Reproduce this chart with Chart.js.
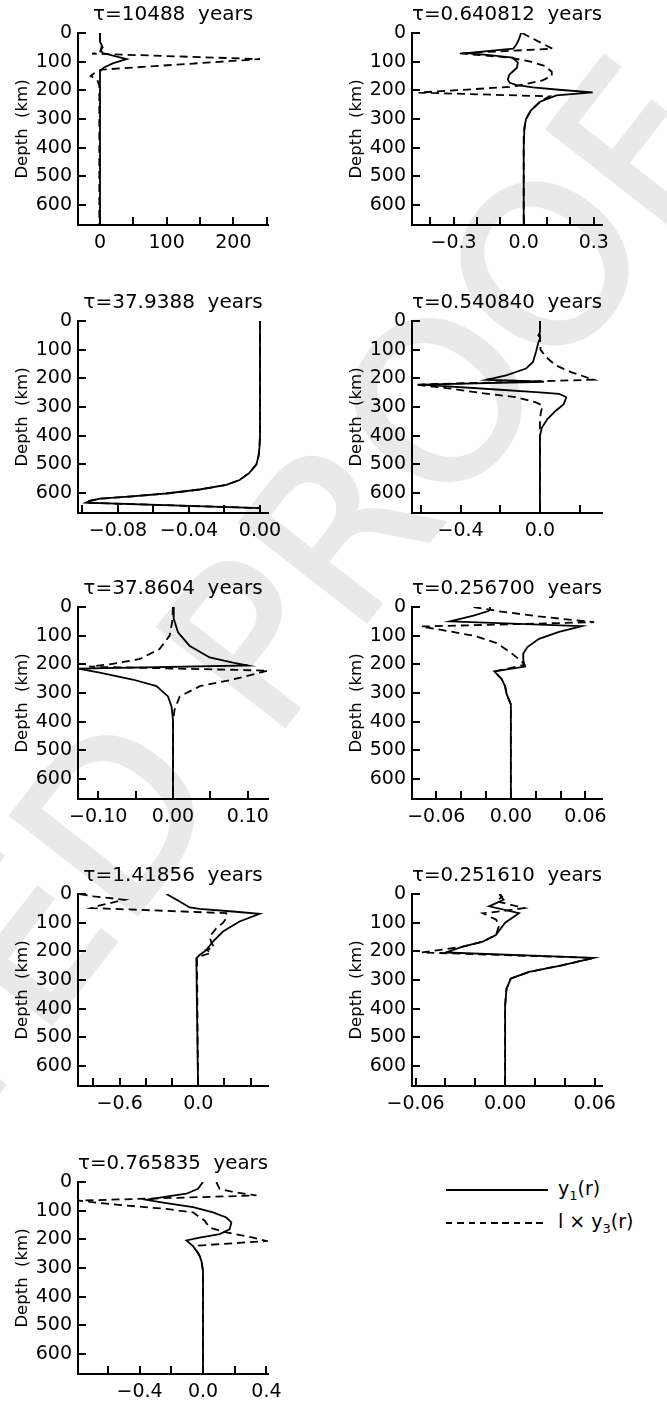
<!DOCTYPE html>
<html>
<head>
<meta charset="utf-8">
<script src="https://cdn.jsdelivr.net/npm/chart.js@4.4.0/dist/chart.umd.min.js"></script>
<style>
    html, body { margin: 0; padding: 0; background: #fff; }
    #page { position: relative; width: 667px; height: 1401px; overflow: hidden; }
    #watermark {
        position: absolute; left: -760px; top: 1761px;
        font-family: "DejaVu Sans"; font-size: 220px; line-height: 220px;
        color: #e9e9e9; -webkit-text-stroke: 4px #e9e9e9;
        white-space: pre; transform-origin: 0 0; transform: rotate(-52deg);
    }
    .panel { position: absolute; }
    .legendLine { position: absolute; height: 2px; }
    .legendText { position: absolute; font-family: "DejaVu Sans"; font-size: 19px; color: #000; white-space: pre; }
    .legendText sub { font-size: 13px; vertical-align: -5px; }
</style>
</head>
<body>
<div id="page">
    <div id="watermark">CORRECTED PROOF</div>
    <div class="legendLine" style="left:446px; top:1189px; width:102px; background:#000; height:1.8px;"></div>
    <div class="legendText" style="left:558px; top:1177px;">y<sub>1</sub>(r)</div>
    <div class="legendLine" style="left:446px; top:1222px; width:102px; height:1.8px; background:repeating-linear-gradient(to right, #000 0 6.5px, transparent 6.5px 11.3px);"></div>
    <div class="legendText" style="left:558px; top:1210px;">l × y<sub>3</sub>(r)</div>
</div>
<script>
var titles = ['τ=10488  years', 'τ=0.640812  years', 'τ=37.9388  years', 'τ=0.540840  years',
    'τ=37.8604  years', 'τ=0.256700  years', 'τ=1.41856  years', 'τ=0.251610  years', 'τ=0.765835  years'];

// x axis ranges and tick steps, one entry per panel
var xMins = [-33, -0.478, -0.1025, -0.645, -0.127, -0.0795, -0.918, -0.0624, -0.789];
var xMaxs = [252, 0.335, 0.0045, 0.313, 0.127, 0.0733, 0.532, 0.0649, 0.41];
var xMinorSteps = [50, 0.1, 0.02, 0.2, 0.05, 0.02, 0.2, 0.02, 0.2];
var xMajorSteps = [100, 0.3, 0.04, 0.4, 0.1, 0.06, 0.6, 0.06, 0.4];
var xDecimals = [0, 1, 2, 1, 2, 2, 1, 2, 1];
var depthTicks = [0, 100, 200, 300, 400, 500, 600];
var depthMax = 670;

// panel 1
var p1Y1Depth = [0, 30, 45, 60, 70, 91, 105, 120, 134, 160, 670];
var p1Y1 = [0, 0, 3, 1, 4, 40, 20, 6, 0, 0, 0];
var p1Y3Depth = [0, 40, 50, 60, 68, 72, 91, 128, 135, 150, 164, 185, 670];
var p1Y3 = [0, 0, 4, 1, 0, -12, 240, 2, -6, -14, -4, -1, -1];

// panel 2
var p2Y1Depth = [0, 23, 41, 55, 70, 77, 86, 103, 121, 145, 162, 174, 182, 190, 198, 207, 218, 240, 270, 300, 330, 400, 670];
var p2Y1 = [-0.011, -0.021, -0.032, -0.045, -0.245, -0.146, -0.047, -0.025, -0.029, -0.061, -0.068, -0.06, -0.03, 0.04, 0.15, 0.295, 0.14, 0.07, 0.031, 0.01, 0.003, 0, 0];
var p2Y3Depth = [0, 55, 71, 86, 100, 115, 135, 150, 165, 180, 188, 208, 221, 240, 270, 300, 350, 670];
var p2Y3 = [-0.007, 0.123, -0.28, -0.06, 0.03, 0.09, 0.12, 0.12, 0.08, 0.0, -0.06, -0.45, 0.11, 0.07, 0.031, 0.01, 0, 0];

// panel 3
var p3Y1Depth = [0, 400, 440, 470, 500, 530, 555, 572, 588, 602, 612, 620, 628, 634, 653, 670];
var p3Y1 = [0, 0, -0.0003, -0.0008, -0.002, -0.006, -0.0115, -0.019, -0.034, -0.053, -0.072, -0.09, -0.096, -0.098, 0, 0];
var p3Y3Depth = [0, 400, 440, 470, 500, 530, 555, 572, 588, 602, 612, 620, 628, 634, 653, 670];
var p3Y3 = [0, 0, -0.0003, -0.0008, -0.002, -0.006, -0.0115, -0.019, -0.034, -0.053, -0.072, -0.09, -0.096, -0.098, 0, 0];

// panel 4
var p4Y1Depth = [0, 40, 50, 58, 75, 108, 143, 166, 190, 205, 212, 222, 239, 248, 254, 266, 290, 313, 342, 372, 401, 670];
var p4Y1 = [0, 0, -0.008, 0.002, -0.008, -0.02, -0.035, -0.07, -0.17, -0.27, 0.02, -0.6, -0.22, -0.02, 0.097, 0.133, 0.12, 0.08, 0.038, 0.01, 0, 0];
var p4Y3Depth = [0, 60, 100, 125, 155, 180, 205, 222, 234, 251, 266, 284, 295, 319, 342, 670];
var p4Y3 = [0, 0, 0.003, 0.03, 0.08, 0.163, 0.272, -0.63, -0.47, -0.3, -0.12, -0.02, 0.013, 0.005, 0, 0];

// panel 5
var p5Y1Depth = [0, 41, 88, 135, 176, 194, 204, 215, 229, 253, 276, 312, 347, 394, 670];
var p5Y1 = [0, 0.001, 0.0067, 0.022, 0.049, 0.08, 0.1, -0.126, -0.098, -0.054, -0.022, -0.0067, -0.002, 0, 0];
var p5Y3Depth = [0, 50, 100, 147, 182, 200, 208, 222, 253, 276, 312, 359, 400, 670];
var p5Y3 = [0, -0.001, -0.0045, -0.018, -0.045, -0.085, -0.112, 0.127, 0.08, 0.036, 0.009, 0.002, 0, 0];

// panel 6
var p6Y1Depth = [0, 8, 14, 30, 50, 67, 87, 111, 140, 163, 187, 208, 225, 235, 252, 276, 305, 340, 670];
var p6Y1 = [-0.017, -0.0165, -0.018, -0.03, -0.049, 0.057, 0.0387, 0.0227, 0.0133, 0.0099, 0.01, 0.0115, -0.0133, -0.011, -0.0073, -0.0047, -0.0033, 0, 0];
var p6Y3Depth = [0, 15, 33, 53, 68, 85, 102, 125, 155, 190, 202, 225, 235, 252, 276, 305, 340, 670];
var p6Y3 = [-0.030, -0.0094, 0.0227, 0.067, -0.072, -0.049, -0.028, -0.012, -0.0013, 0.0087, 0.0107, -0.0133, -0.011, -0.0073, -0.0047, -0.0033, 0, 0];

// panel 7
var p7Y1Depth = [0, 26, 47, 52, 61, 69, 96, 131, 166, 196, 213, 225, 670];
var p7Y1 = [-0.244, -0.142, -0.066, 0.01, 0.264, 0.468, 0.315, 0.188, 0.112, 0.061, 0.01, -0.015, -0.002];
var p7Y3Depth = [0, 8, 20, 40, 49, 67, 84, 100, 120, 149, 170, 185, 195, 205, 215, 225, 670];
var p7Y3 = [-0.905, -0.80, -0.562, -0.75, -0.816, 0.214, 0.214, 0.19, 0.137, 0.086, 0.1, 0.12, 0.06, 0.1, 0.03, -0.01, -0.002];

// panel 8
var p8Y1Depth = [0, 8, 20, 43, 67, 100, 143, 166, 184, 204, 223, 249, 272, 295, 331, 389, 670];
var p8Y1 = [-0.003, -0.003, -0.001, -0.0107, 0.0093, 0.0, -0.0062, -0.015, -0.0284, -0.0396, 0.0593, 0.038, 0.016, 0.0038, 0.0009, 0, 0];
var p8Y3Depth = [0, 10, 25, 49, 60, 67, 90, 110, 143, 166, 184, 204, 223, 249, 272, 295, 331, 389, 670];
var p8Y3 = [-0.004, -0.002, -0.006, 0.0127, -0.002, -0.015, -0.006, -0.004, -0.0062, -0.015, -0.0284, -0.056, 0.0593, 0.038, 0.016, 0.0038, 0.0009, 0, 0];

// panel 9
var p9Y1Depth = [0, 24, 41, 51, 62, 74, 88, 106, 124, 141, 165, 182, 194, 204, 224, 253, 276, 312, 670];
var p9Y1 = [0, -0.032, -0.105, -0.232, -0.358, -0.232, -0.063, 0.063, 0.147, 0.179, 0.168, 0.105, -0.021, -0.105, -0.063, -0.025, -0.01, 0, 0];
var p9Y3Depth = [0, 24, 35, 47, 65, 79, 94, 106, 135, 159, 176, 194, 206, 222, 240, 260, 280, 312, 670];
var p9Y3 = [0.084, 0.105, 0.19, 0.337, -0.79, -0.547, -0.232, -0.063, 0.01, 0.042, 0.147, 0.316, 0.4, -0.03, -0.04, -0.02, -0.008, 0, 0];

var panelY1Depths = [p1Y1Depth, p2Y1Depth, p3Y1Depth, p4Y1Depth, p5Y1Depth, p6Y1Depth, p7Y1Depth, p8Y1Depth, p9Y1Depth];
var panelY1 = [p1Y1, p2Y1, p3Y1, p4Y1, p5Y1, p6Y1, p7Y1, p8Y1, p9Y1];
var panelY3Depths = [p1Y3Depth, p2Y3Depth, p3Y3Depth, p4Y3Depth, p5Y3Depth, p6Y3Depth, p7Y3Depth, p8Y3Depth, p9Y3Depth];
var panelY3 = [p1Y3, p2Y3, p3Y3, p4Y3, p5Y3, p6Y3, p7Y3, p8Y3, p9Y3];

var panelLefts = [0, 334, 0, 334, 0, 334, 0, 334, 0];
var panelTops = [0, 0, 288, 288, 574, 574, 861, 861, 1149];

var FONT = 'DejaVu Sans';
var AREA_TOP = 33, AREA_HEIGHT = 192, AXIS_WIDTH = 78, AREA_WIDTH = 190;

function toPoints(depths, values) {
    var points = [];
    for (var i = 0; i < depths.length; i++) {
        points.push({x: values[i], y: depths[i]});
    }
    return points;
}

function formatTick(value, decimals) {
    var text = Math.abs(value).toFixed(decimals);
    return (value < -1e-9 ? '\u2212' : '') + text;
}

function createPanel(index) {
    var width = 333;
    var height = Math.min(287, 1401 - panelTops[index]);
    var canvas = document.createElement('canvas');
    canvas.className = 'panel';
    canvas.width = width;
    canvas.height = height;
    canvas.style.left = panelLefts[index] + 'px';
    canvas.style.top = panelTops[index] + 'px';
    canvas.style.width = width + 'px';
    canvas.style.height = height + 'px';
    document.getElementById('page').appendChild(canvas);

    var major = xMajorSteps[index];
    var decimals = xDecimals[index];

    return new Chart(canvas, {
        type: 'scatter',
        data: {
            datasets: [{
                label: 'y1(r)',
                data: toPoints(panelY1Depths[index], panelY1[index]),
                showLine: true,
                borderColor: '#000',
                borderWidth: 1.8,
                pointRadius: 0,
                tension: 0,
                fill: false
            }, {
                label: 'l x y3(r)',
                data: toPoints(panelY3Depths[index], panelY3[index]),
                showLine: true,
                borderColor: '#000',
                borderWidth: 1.8,
                borderDash: [8, 5],
                pointRadius: 0,
                tension: 0,
                fill: false
            }]
        },
        options: {
            responsive: false,
            animation: false,
            devicePixelRatio: 1,
            layout: {padding: {left: 0, right: width - AXIS_WIDTH - AREA_WIDTH, top: 0, bottom: 0}},
            plugins: {
                legend: {display: false},
                tooltip: {enabled: false},
                title: {
                    display: true,
                    text: titles[index],
                    fullSize: false,
                    color: '#000',
                    font: {family: FONT, size: 20, weight: 'normal', lineHeight: 1.2},
                    padding: {top: 3, bottom: AREA_TOP - 3 - 24}
                }
            },
            scales: {
                x: {
                    type: 'linear',
                    position: 'bottom',
                    min: xMins[index],
                    max: xMaxs[index],
                    afterFit: function(scale) { scale.height = height - AREA_TOP - AREA_HEIGHT; },
                    border: {display: true, color: '#000', width: 2},
                    grid: {drawOnChartArea: false, drawTicks: true, tickLength: -8, color: '#000', lineWidth: 2},
                    ticks: {
                        stepSize: xMinorSteps[index],
                        includeBounds: false,
                        autoSkip: false,
                        maxRotation: 0,
                        color: '#000',
                        padding: 14.6,
                        font: {family: FONT, size: 19},
                        callback: function(value) {
                            var ratio = value / major;
                            if (Math.abs(ratio - Math.round(ratio)) > 1e-6) {
                                return '';
                            }
                            return formatTick(value, decimals);
                        }
                    }
                },
                y: {
                    type: 'linear',
                    position: 'left',
                    reverse: true,
                    min: 0,
                    max: depthMax,
                    afterFit: function(scale) { scale.width = AXIS_WIDTH; },
                    border: {display: true, color: '#000', width: 2},
                    grid: {drawOnChartArea: false, drawTicks: true, tickLength: -8, color: '#000', lineWidth: 2},
                    afterBuildTicks: function(scale) {
                        scale.ticks = depthTicks.map(function(v) { return {value: v}; });
                    },
                    ticks: {
                        autoSkip: false,
                        color: '#000',
                        padding: 14,
                        font: {family: FONT, size: 19}
                    },
                    title: {
                        display: true,
                        text: 'Depth  (km)',
                        color: '#000',
                        font: {family: FONT, size: 16.5},
                        padding: {top: 13, bottom: 0}
                    }
                }
            }
        }
    });
}

for (var i = 0; i < titles.length; i++) {
    createPanel(i);
}
</script>
</body>
</html>
